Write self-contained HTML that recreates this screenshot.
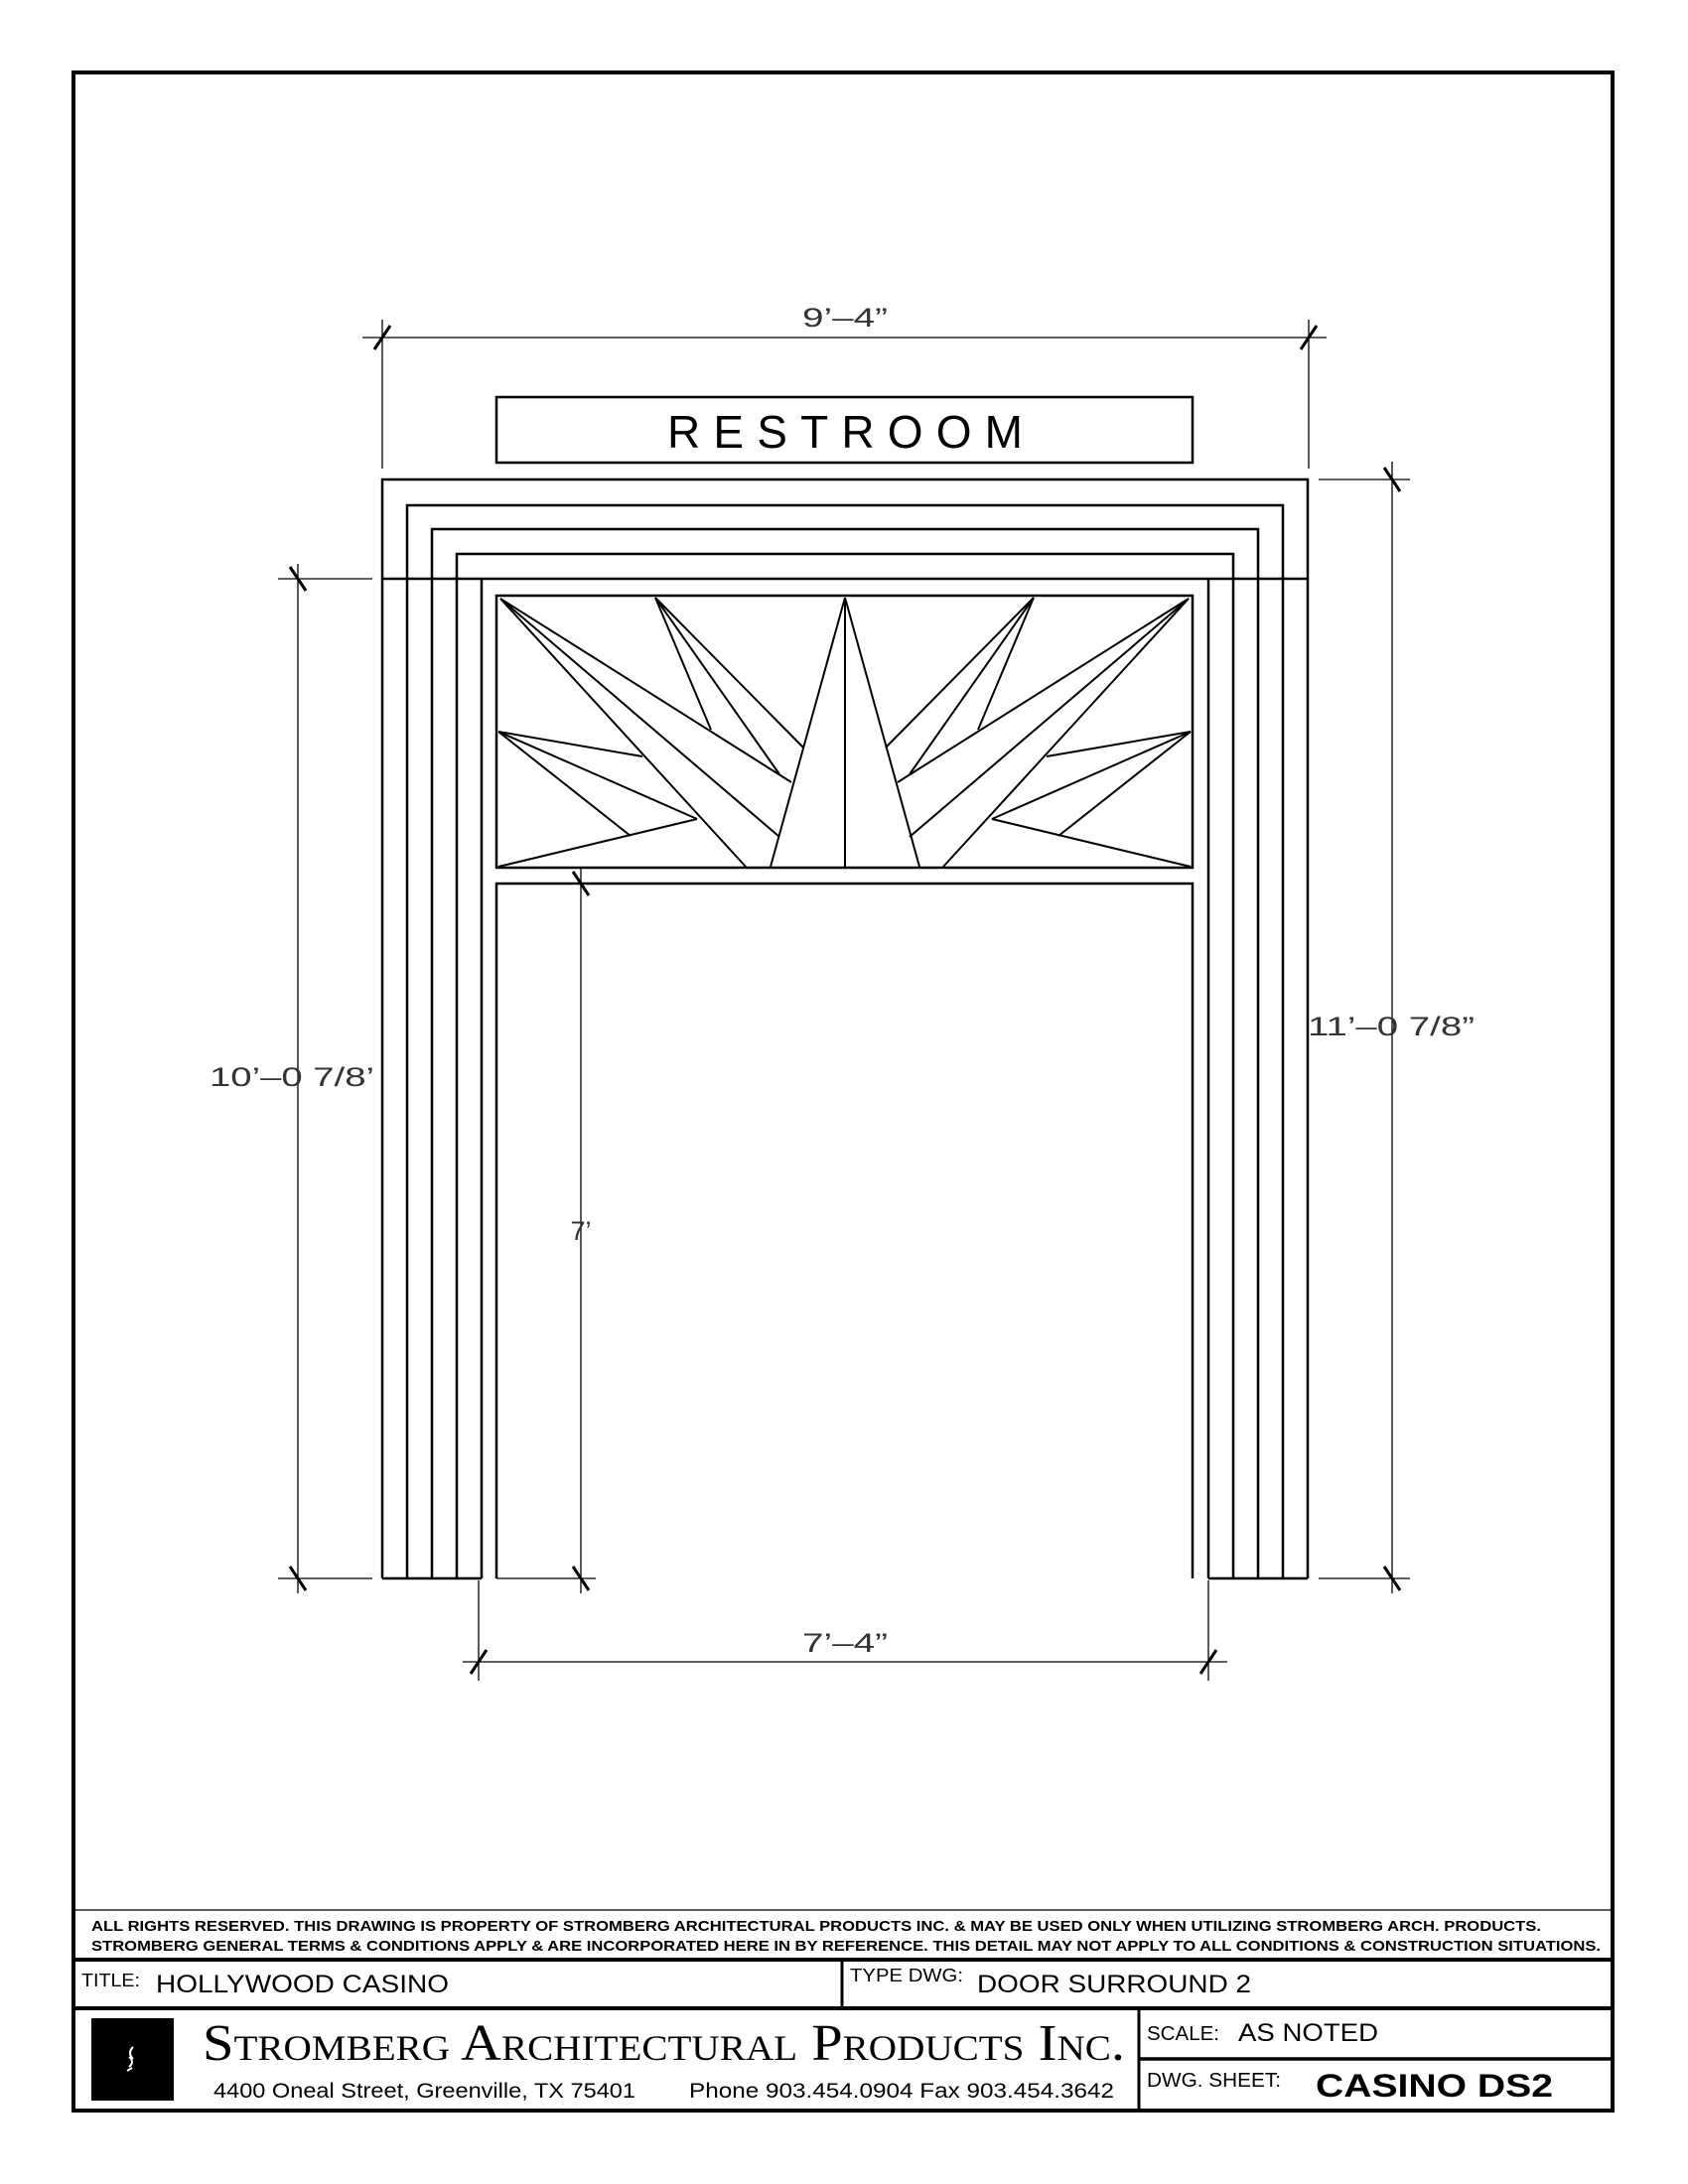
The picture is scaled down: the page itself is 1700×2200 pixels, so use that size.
<!DOCTYPE html>
<html><head><meta charset="utf-8"><style>
html,body{margin:0;padding:0;background:#fff;}
svg{display:block;}
</style></head><body>
<svg width="1700" height="2200" viewBox="0 0 1700 2200" xmlns="http://www.w3.org/2000/svg">
<rect width="1700" height="2200" fill="#fff"/>
<!-- border -->
<rect x="74" y="73" width="1550" height="2053" fill="none" stroke="#000" stroke-width="4"/>

<!-- dimension lines (thin) -->
<g stroke="#000" stroke-width="1.3" fill="none">
  <!-- top 9'-4" -->
  <line x1="365" y1="340" x2="1336" y2="340"/>
  <line x1="385" y1="322" x2="385" y2="472"/>
  <line x1="1318" y1="322" x2="1318" y2="472"/>
  <!-- left 10'-0 7/8 -->
  <line x1="300" y1="568" x2="300" y2="1605"/>
  <line x1="280" y1="583" x2="375" y2="583"/>
  <line x1="280" y1="1590" x2="375" y2="1590"/>
  <!-- right 11'-0 7/8 -->
  <line x1="1402" y1="465" x2="1402" y2="1605"/>
  <line x1="1328" y1="483" x2="1420" y2="483"/>
  <line x1="1328" y1="1590" x2="1420" y2="1590"/>
  <!-- 7' -->
  <line x1="585" y1="874" x2="585" y2="1605"/>
  <line x1="500" y1="1590" x2="600" y2="1590"/>
  <!-- 7'-4" -->
  <line x1="466" y1="1674" x2="1236" y2="1674"/>
  <line x1="482" y1="1592" x2="482" y2="1693"/>
  <line x1="1217" y1="1592" x2="1217" y2="1693"/>
</g>
<!-- ticks -->
<g stroke="#000" stroke-width="3" fill="none">
  <line x1="377" y1="352" x2="393" y2="328"/>
  <line x1="1310" y1="352" x2="1326" y2="328"/>
  <line x1="292" y1="571" x2="308" y2="595"/>
  <line x1="292" y1="1578" x2="308" y2="1602"/>
  <line x1="1394" y1="471" x2="1410" y2="495"/>
  <line x1="1394" y1="1578" x2="1410" y2="1602"/>
  <line x1="577" y1="878" x2="593" y2="902"/>
  <line x1="577" y1="1578" x2="593" y2="1602"/>
  <line x1="474" y1="1686" x2="490" y2="1662"/>
  <line x1="1209" y1="1686" x2="1225" y2="1662"/>
</g>
<g font-family="Liberation Sans, sans-serif" font-size="27" fill="#333" font-weight="normal">
  <text x="851" y="329" text-anchor="middle" textLength="86" lengthAdjust="spacingAndGlyphs">9’–4”</text>
  <text x="211" y="1094" textLength="166" lengthAdjust="spacingAndGlyphs">10’–0  7/8’</text>
  <text x="1317" y="1043" textLength="168" lengthAdjust="spacingAndGlyphs">11’–0  7/8”</text>
  <text x="585" y="1249" text-anchor="middle">7’</text>
  <text x="851" y="1664" text-anchor="middle" textLength="86" lengthAdjust="spacingAndGlyphs">7’–4”</text>
</g>

<!-- sign -->
<rect x="500" y="400" width="701" height="66" fill="none" stroke="#000" stroke-width="2.5"/>
<text x="851" y="451" text-anchor="middle" font-family="Liberation Sans, sans-serif" font-size="46" textLength="358" lengthAdjust="spacing" fill="#000">RESTROOM</text>

<!-- frame -->
<g stroke="#000" stroke-width="2.5" fill="none">
  <path d="M385 1590 V483 H1317 V1590"/>
  <path d="M410 1590 V509 H1292 V1590"/>
  <path d="M435 1590 V533 H1267 V1590"/>
  <path d="M460 1590 V558 H1242 V1590"/>
  <line x1="485" y1="583" x2="485" y2="1590"/>
  <line x1="1217" y1="583" x2="1217" y2="1590"/>
  <line x1="385" y1="583" x2="1317" y2="583"/>
  <line x1="385" y1="1590" x2="485" y2="1590"/>
  <line x1="1217" y1="1590" x2="1317" y2="1590"/>
  <!-- transom panel -->
  <rect x="500" y="600" width="701" height="274"/>
  <!-- door opening -->
  <path d="M500 1590 V890 H1201 V1590"/>
</g>

<!-- sunburst -->
<g stroke="#000" stroke-width="2" fill="none" stroke-linejoin="miter">
  <line x1="504" y1="603" x2="751" y2="873"/>
  <line x1="504" y1="603" x2="785" y2="843"/>
  <line x1="504" y1="603" x2="797" y2="788"/>
  <line x1="660" y1="602" x2="716" y2="735"/>
  <line x1="660" y1="602" x2="785" y2="780"/>
  <line x1="660" y1="602" x2="809" y2="753"/>
  <line x1="851" y1="602" x2="776" y2="873"/>
  <line x1="851" y1="602" x2="926" y2="873"/>
  <line x1="851" y1="602" x2="851" y2="873"/>
  <line x1="502" y1="737" x2="647" y2="762"/>
  <line x1="502" y1="737" x2="702" y2="825"/>
  <line x1="502" y1="737" x2="635" y2="842"/>
  <line x1="502" y1="873" x2="702" y2="825"/>
  <!-- mirror -->
  <line x1="1197" y1="603" x2="950" y2="873"/>
  <line x1="1197" y1="603" x2="916" y2="843"/>
  <line x1="1197" y1="603" x2="904" y2="788"/>
  <line x1="1041" y1="602" x2="985" y2="735"/>
  <line x1="1041" y1="602" x2="916" y2="780"/>
  <line x1="1041" y1="602" x2="892" y2="753"/>
  <line x1="1199" y1="737" x2="1054" y2="762"/>
  <line x1="1199" y1="737" x2="999" y2="825"/>
  <line x1="1199" y1="737" x2="1066" y2="842"/>
  <line x1="1199" y1="873" x2="999" y2="825"/>
</g>

<!-- title block -->
<g stroke="#000" fill="none">
  <line x1="74" y1="1924" x2="1624" y2="1924" stroke-width="1.2"/>
  <line x1="74" y1="1974" x2="1624" y2="1974" stroke-width="4"/>
  <line x1="74" y1="2023" x2="1624" y2="2023" stroke-width="4"/>
  <line x1="848" y1="1974" x2="848" y2="2023" stroke-width="3"/>
  <line x1="1147" y1="2023" x2="1147" y2="2126" stroke-width="3"/>
  <line x1="1147" y1="2074" x2="1624" y2="2074" stroke-width="3.5"/>
</g>
<g font-family="Liberation Sans Narrow, Liberation Sans, sans-serif" fill="#000">
  <text x="92" y="1945" font-size="15" font-weight="bold" textLength="1460" lengthAdjust="spacingAndGlyphs">ALL RIGHTS RESERVED. THIS DRAWING IS PROPERTY OF STROMBERG ARCHITECTURAL PRODUCTS INC. &amp; MAY BE USED ONLY WHEN UTILIZING STROMBERG ARCH. PRODUCTS.</text>
  <text x="92" y="1965" font-size="15" font-weight="bold" textLength="1520" lengthAdjust="spacingAndGlyphs">STROMBERG GENERAL TERMS &amp; CONDITIONS APPLY &amp; ARE INCORPORATED HERE IN BY REFERENCE. THIS DETAIL MAY NOT APPLY TO ALL CONDITIONS &amp; CONSTRUCTION SITUATIONS.</text>
  <text x="82" y="2001" font-size="18" textLength="59" lengthAdjust="spacingAndGlyphs">TITLE:</text>
  <text x="157" y="2007" font-size="25" textLength="295" lengthAdjust="spacingAndGlyphs">HOLLYWOOD CASINO</text>
  <text x="856" y="1996" font-size="18" textLength="114" lengthAdjust="spacingAndGlyphs">TYPE DWG:</text>
  <text x="984" y="2007" font-size="25" textLength="276" lengthAdjust="spacingAndGlyphs">DOOR SURROUND 2</text>
  <text x="1155" y="2055" font-size="20" textLength="73" lengthAdjust="spacingAndGlyphs">SCALE:</text>
  <text x="1247" y="2056" font-size="25" textLength="141" lengthAdjust="spacingAndGlyphs">AS NOTED</text>
  <text x="1155" y="2102" font-size="20" textLength="135" lengthAdjust="spacingAndGlyphs">DWG. SHEET:</text>
  <text x="1325" y="2112" font-size="32" font-weight="bold" font-family="Liberation Sans, sans-serif" textLength="239" lengthAdjust="spacingAndGlyphs">CASINO DS2</text>
  <text x="215" y="2113" font-size="21" textLength="425" lengthAdjust="spacingAndGlyphs">4400 Oneal Street, Greenville, TX  75401</text>
  <text x="694" y="2113" font-size="21" textLength="428" lengthAdjust="spacingAndGlyphs">Phone 903.454.0904   Fax 903.454.3642</text>
</g>
<text x="204" y="2075" font-family="Liberation Serif, serif" font-size="52" style="font-variant:small-caps" textLength="929" lengthAdjust="spacingAndGlyphs" fill="#000">Stromberg Architectural Products Inc.</text>
<rect x="92" y="2033" width="83" height="83" fill="#000"/>
<g stroke="#fff" stroke-width="2" fill="none">
  <path d="M134 2062 q-6 6 0 12"/>
  <path d="M130 2072 q6 5 0 10"/>
  <path d="M128 2086 l5 -3"/>
</g>
</svg>
</body></html>
